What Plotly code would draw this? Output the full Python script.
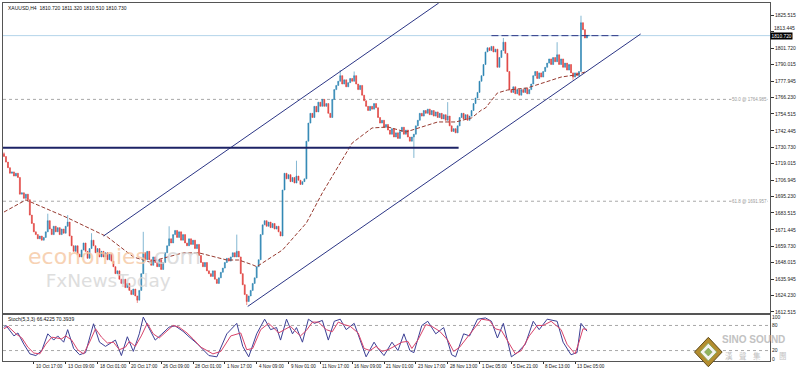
import plotly.graph_objects as go

# ---------------- data ----------------
first_open = 1726.0
closes = [
    1724, 1720, 1716, 1712, 1713, 1710, 1712, 1709, 1697, 1698,
    1694, 1697, 1693, 1682, 1676, 1670, 1668, 1665, 1667, 1664,
    1666, 1670, 1678, 1672, 1668, 1674, 1670, 1673, 1668, 1672,
    1669, 1674, 1677, 1667, 1660, 1656, 1660, 1654, 1652, 1657,
    1662, 1656, 1651, 1658, 1664, 1660, 1655, 1658, 1652, 1656,
    1652, 1655, 1650, 1654, 1649, 1645, 1640, 1642, 1636, 1633,
    1636, 1630, 1633, 1628, 1625, 1629, 1624, 1621, 1628, 1640,
    1655, 1650, 1656, 1650, 1646, 1652, 1648, 1645, 1650, 1643,
    1648, 1655, 1660, 1665, 1662, 1668, 1671, 1666, 1670, 1664,
    1668, 1662, 1660, 1665, 1661, 1664, 1658, 1661, 1653, 1648,
    1645, 1648, 1642, 1640, 1638, 1642, 1636, 1633, 1637, 1641,
    1644, 1648, 1651, 1649, 1652, 1655, 1652, 1656, 1652, 1640,
    1632, 1625, 1620, 1624, 1628, 1633, 1637, 1645, 1650, 1668,
    1675, 1678, 1674, 1677, 1673, 1676, 1672, 1674, 1670, 1667,
    1700, 1712, 1708, 1711, 1706, 1709, 1705, 1710, 1707, 1704,
    1706, 1708, 1735, 1748, 1755, 1752, 1760, 1756, 1763, 1760,
    1765, 1760, 1762, 1755, 1752, 1765, 1772, 1775, 1778, 1782,
    1776, 1779, 1774, 1777, 1780, 1778, 1782, 1776, 1772, 1775,
    1768, 1764, 1760, 1757, 1760, 1758, 1762, 1759, 1752, 1748,
    1750, 1745, 1747, 1743, 1740, 1744, 1738, 1741, 1737, 1742,
    1745, 1740, 1743, 1738, 1735, 1738, 1740, 1746, 1750, 1755,
    1753, 1757, 1755, 1758, 1754, 1757, 1753, 1756, 1752, 1755,
    1751, 1754, 1750, 1753, 1746, 1742, 1744, 1741, 1746, 1752,
    1755, 1751, 1754, 1750, 1753, 1757, 1762, 1766, 1770, 1778,
    1782, 1790, 1799, 1802, 1800, 1803, 1799, 1801, 1788, 1795,
    1800, 1806, 1798, 1785, 1772, 1770, 1774, 1769, 1772, 1768,
    1772, 1770, 1773, 1769, 1772, 1776, 1782, 1785, 1780, 1784,
    1781, 1785, 1788, 1791, 1794, 1790, 1795, 1792, 1797, 1790,
    1794, 1788, 1791, 1786, 1790, 1784, 1781, 1784, 1782, 1785,
    1820, 1815, 1809, 1811, 1810.73,
]
spike_highs = {0: 1727, 22: 1683, 32: 1682, 44: 1669, 70: 1670, 83: 1674,
               117: 1668, 147: 1721, 169: 1786, 176: 1785, 223: 1763,
               251: 1809, 278: 1806, 290: 1825, 291: 1818, 294: 1811.32}
spike_lows = {67: 1619, 122: 1617.5, 206: 1723, 286: 1779, 294: 1810.51}

ma_idx = [0, 11, 32, 52, 65, 73, 90, 98, 112, 118, 125, 127, 140, 152, 160,
          168, 175, 185, 193, 202, 210, 218, 227, 235, 240, 242, 248, 253,
          263, 280, 287, 292]
ma_val = [1684.2, 1692.9, 1680.0, 1666.3, 1652.0, 1648.4, 1654.9, 1654.9,
          1649.8, 1649.8, 1646.3, 1645.0, 1657.0, 1676.4, 1697.9, 1716.5,
          1733.7, 1744.5, 1745.2, 1741.6, 1745.2, 1748.8, 1748.8, 1751.7,
          1757.4, 1758.8, 1769.6, 1771.7, 1773.2, 1781.0, 1782.5, 1784.6]

k_idx = [0, 1, 5, 7, 10, 13, 16, 19, 22, 25, 27, 30, 32, 35, 38, 41, 45, 48,
         51, 56, 59, 62, 65, 68, 70, 73, 76, 79, 83, 86, 90, 93, 97, 103, 107,
         112, 117, 120, 123, 127, 131, 134, 137, 139, 142, 145, 147, 150, 153,
         156, 160, 163, 166, 169, 172, 176, 180, 182, 186, 188, 191, 195, 198,
         201, 204, 206, 210, 213, 217, 221, 225, 227, 231, 234, 238, 242, 245,
         248, 251, 255, 258, 262, 266, 269, 273, 278, 281, 285, 288, 290, 293]
k_val = [75, 80, 55, 62, 35, 12, 8, 20, 60, 45, 55, 40, 70, 25, 10, 15, 84, 40,
         30, 45, 8, 53, 18, 60, 100, 71, 45, 58, 76, 79, 66, 53, 37, 8, 5,
         60, 85, 30, 5, 60, 95, 70, 75, 45, 95, 60, 75, 40, 95,
         85, 92, 45, 90, 95, 70, 85, 30, 5, 40, 25, 8, 40, 20,
         60, 20, 15, 80, 90, 60, 75, 10, 5, 60, 55, 95, 98, 90,
         50, 85, 5, 15, 35, 90, 70, 95, 90, 40, 10, 15, 85, 66.42]

d_idx = [0, 2, 6, 9, 12, 15, 18, 21, 24, 27, 29, 31, 34, 37, 40, 43, 46, 49,
         52, 55, 58, 61, 63, 66, 69, 72, 75, 78, 81, 85, 88, 92, 95, 99, 105,
         109, 114, 119, 122, 125, 129, 133, 136, 138, 141, 144, 146, 149, 152,
         155, 158, 162, 165, 168, 171, 174, 178, 181, 184, 187, 190, 193, 197,
         200, 203, 205, 208, 212, 215, 219, 223, 226, 229, 233, 236, 240, 244,
         247, 250, 253, 257, 260, 264, 268, 271, 275, 280, 283, 287, 289, 291,
         293]
d_val = [72, 78, 60, 50, 28, 14, 12, 35, 52, 50, 48, 55, 45, 22, 12, 40, 72,
         52, 38, 40, 22, 28, 42, 30, 55, 85, 60, 50, 62, 80, 76, 62, 48, 28,
         12, 18, 55, 62, 22, 25, 70, 85, 72, 62, 70, 78, 68, 55, 68, 88, 88,
         70, 65, 88, 82, 78, 62, 25, 20, 30, 18, 22, 32, 40, 42, 25, 45, 82,
         78, 66, 45, 18, 28, 52, 72, 95, 92, 72, 68, 45, 12, 20, 55, 80, 80,
         90, 70, 35, 12, 40, 72, 70.39]

price_ticks = [1825.515, 1813.445, 1801.720, 1790.015, 1777.945, 1766.230,
               1754.515, 1742.445, 1730.730, 1719.015, 1706.945, 1695.230,
               1683.515, 1671.445, 1659.730, 1648.015, 1635.945, 1624.230,
               1612.515]
hidden_tick = 1813.445   # label sits just above the black price box
date_labels = ["6 Oct 2022", "10 Oct 17:00", "13 Oct 09:00", "18 Oct 01:00",
               "20 Oct 17:00", "26 Oct 09:00", "28 Oct 01:00", "1 Nov 17:00",
               "4 Nov 09:00", "9 Nov 01:00", "11 Nov 17:00", "16 Nov 09:00",
               "21 Nov 01:00", "23 Nov 17:00", "28 Nov 13:00", "1 Dec 05:00",
               "5 Dec 21:00", "8 Dec 13:00", "13 Dec 05:00"]
date_label_idx = [-1 + 16 * k for k in range(len(date_labels))]

bid = 1810.720
support_level = 1730.3
resistance_level = 1810.7
fib_levels = [1764.985, 1691.957]
fib_texts = ["50.0 @ 1764.985", "61.8 @ 1691.957"]
upper_channel = ([50, 218.5], [1667.0, 1834.1])
lower_channel = ([122.5, 320], [1616.5, 1811.9])
support_span = [-0.5, 228.5]
resistance_span = [245, 310]

logo_chars = ["漢", "聲", "集", "團"]
logo_char_x = [0.9468, 0.9650, 0.9831, 1.0168]

# ---------------- build OHLC ----------------
n = len(closes)
opens = [first_open] + closes[:-1]
opens[-1] = 1810.720
highs, lows = [], []
for i in range(n):
    h = max(opens[i], closes[i])
    l = min(opens[i], closes[i])
    if i in spike_highs:
        h = max(h, spike_highs[i])
    if i in spike_lows:
        l = min(l, spike_lows[i])
    highs.append(h)
    lows.append(l)
xs = list(range(n))

UP = "#2f86b4"
DOWN = "#e0403c"
NAVY = "#2b3585"
FONT = "Liberation Sans"

fig = go.Figure()
fig.add_trace(go.Candlestick(
    x=xs, open=opens, high=highs, low=lows, close=closes,
    increasing=dict(line=dict(color=UP, width=0.6), fillcolor=UP),
    decreasing=dict(line=dict(color=DOWN, width=0.6), fillcolor=DOWN),
    whiskerwidth=0, showlegend=False, hoverinfo="skip",
    xaxis="x", yaxis="y"))

fig.add_trace(go.Scatter(x=ma_idx, y=ma_val, mode="lines",
                         line=dict(color="#973a30", width=1, dash="4px,2px"),
                         showlegend=False, hoverinfo="skip", xaxis="x", yaxis="y"))

fig.add_trace(go.Scatter(x=upper_channel[0], y=upper_channel[1], mode="lines",
                         line=dict(color=NAVY, width=1), showlegend=False,
                         hoverinfo="skip", xaxis="x", yaxis="y"))
fig.add_trace(go.Scatter(x=lower_channel[0], y=lower_channel[1], mode="lines",
                         line=dict(color=NAVY, width=1), showlegend=False,
                         hoverinfo="skip", xaxis="x", yaxis="y"))
fig.add_trace(go.Scatter(x=support_span, y=[support_level] * 2, mode="lines",
                         line=dict(color="#1c2366", width=2), showlegend=False,
                         hoverinfo="skip", xaxis="x", yaxis="y"))
fig.add_trace(go.Scatter(x=resistance_span, y=[resistance_level] * 2, mode="lines",
                         line=dict(color=NAVY, width=1, dash="7px,3px"),
                         showlegend=False, hoverinfo="skip", xaxis="x", yaxis="y"))

fig.add_trace(go.Scatter(x=k_idx, y=k_val, mode="lines",
                         line=dict(color="#3c3f95", width=1), showlegend=False,
                         hoverinfo="skip", xaxis="x2", yaxis="y2"))
fig.add_trace(go.Scatter(x=d_idx, y=d_val, mode="lines",
                         line=dict(color="#d8436a", width=1), showlegend=False,
                         hoverinfo="skip", xaxis="x2", yaxis="y2"))

shapes = []
shapes.append(dict(type="line", xref="paper", x0=0, x1=1, yref="y", y0=bid, y1=bid,
                   line=dict(color="#b3d4ea", width=1), layer="below"))
for lv in fib_levels:
    shapes.append(dict(type="line", xref="paper", x0=0, x1=1, yref="y", y0=lv, y1=lv,
                       line=dict(color="#a8a8a8", width=1, dash="dot"), layer="below"))
for lv in [80, 20]:
    shapes.append(dict(type="line", xref="paper", x0=0, x1=1, yref="y2", y0=lv, y1=lv,
                       line=dict(color="#a8a8a8", width=1, dash="dot"), layer="below"))

# logo diamond (decoration), centre about (711, 352) px
shapes.append(dict(type="path", xref="paper", yref="paper",
                   path="M 0.9196 0.066 L 0.9376 0.025 L 0.9196 -0.016 L 0.9016 0.025 Z",
                   fillcolor="#b38d2f", line=dict(color="#5e4a1a", width=1)))
shapes.append(dict(type="path", xref="paper", yref="paper",
                   path="M 0.9196 0.050 L 0.9306 0.025 L 0.9196 0.000 L 0.9086 0.025 Z",
                   fillcolor="#f4f4f0", line=dict(color="#8aa85a", width=1)))
shapes.append(dict(type="path", xref="paper", yref="paper",
                   path="M 0.9196 0.036 L 0.9246 0.025 L 0.9196 0.014 L 0.9146 0.025 Z",
                   fillcolor="#8fb35c", line=dict(color="#6f8f45", width=0.5)))

annotations = []
annotations.append(dict(text="XAUUSD,H4  1810.720 1811.320 1810.510 1810.730",
                        xref="paper", yref="paper", x=0.004, y=0.985,
                        xanchor="left", yanchor="middle", showarrow=False,
                        font=dict(size=5, color="#111", family=FONT)))
annotations.append(dict(text="Stoch(5,3,3) 66.4225 70.3939",
                        xref="paper", yref="paper", x=0.004, y=0.118,
                        xanchor="left", yanchor="middle", showarrow=False,
                        font=dict(size=5, color="#111", family=FONT)))
annotations.append(dict(text=f"{bid:.3f}", xref="paper", yref="y", x=1.0, y=bid,
                        xanchor="left", yanchor="middle", showarrow=False,
                        bgcolor="#000000", borderpad=0.5,
                        font=dict(size=4.8, color="#ffffff", family=FONT)))
annotations.append(dict(text=f"{hidden_tick:.3f}", xref="paper", yref="y",
                        x=1.0, xshift=3, y=1813.6, xanchor="left", yanchor="bottom",
                        showarrow=False, borderpad=0,
                        font=dict(size=5, color="#222", family=FONT)))
for lv, t in zip(fib_levels, fib_texts):
    annotations.append(dict(text=t, xref="paper", yref="y", x=0.998, y=lv,
                            xanchor="right", yanchor="middle", showarrow=False,
                            bgcolor="#ffffff", borderpad=0,
                            font=dict(size=4.5, color="#9a9a9a", family=FONT)))
for idx, lab in zip(date_label_idx, date_labels):
    annotations.append(dict(text=lab, xref="x2", yref="paper", x=idx, y=-0.014,
                            xanchor="left", yanchor="middle", showarrow=False,
                            font=dict(size=4.6, color="#111", family=FONT)))
# watermark (one block, two lines)
annotations.append(dict(
    text=("<span style='font-size:22px;color:#f6c7a2'>economies</span>"
          "<span style='font-size:22px;color:#d6d6d6'>.com</span><br>"
          "<span style='font-size:18.5px;color:#d6d6d6'>&nbsp;&nbsp;&nbsp;FxNewsToday</span>"),
    xref="paper", yref="paper", x=0.03, y=0.262, align="left",
    xanchor="left", yanchor="middle", showarrow=False, opacity=0.8,
    font=dict(size=17.5, family="DejaVu Sans")))
annotations.append(dict(text="<b>SINO SOUND</b>", xref="paper", yref="paper",
                        x=1.022, y=0.059, xanchor="right", yanchor="middle",
                        showarrow=False, font=dict(size=10, color="#c2c2c2", family=FONT)))
for ch, cx in zip(logo_chars, logo_char_x):
    annotations.append(dict(text=ch, xref="paper", yref="paper",
                            x=cx, y=0.016, xanchor="center", yanchor="middle",
                            showarrow=False, font=dict(size=7.5, color="#c2c2c2",
                                                       family="Noto Sans CJK TC")))

fig.update_layout(
    width=798, height=372,
    margin=dict(l=2, r=25, t=3, b=11),
    paper_bgcolor="#ffffff", plot_bgcolor="#ffffff",
    shapes=shapes, annotations=annotations,
    xaxis=dict(domain=[0, 1], range=[-0.5, 385], showgrid=False, zeroline=False,
               showticklabels=False, ticks="", showline=True, mirror=True,
               linecolor="#555", linewidth=1, rangeslider=dict(visible=False),
               anchor="y", fixedrange=True),
    yaxis=dict(domain=[0.1341, 1], range=[1611.79, 1834.12], side="right",
               tickvals=price_ticks,
               ticktext=["" if v == hidden_tick else f"{v:.3f}" for v in price_ticks],
               ticks="outside", ticklen=3, tickcolor="#333", showgrid=False,
               zeroline=False, showline=True, mirror=True, linecolor="#555",
               linewidth=1, tickfont=dict(size=5, color="#222", family=FONT),
               anchor="x"),
    xaxis2=dict(domain=[0, 1], range=[-0.5, 385], matches="x", showgrid=False,
                zeroline=False, tickvals=date_label_idx, ticktext=[""] * len(date_labels),
                ticks="outside", ticklen=2, tickcolor="#333", showline=True,
                mirror=True, linecolor="#555", linewidth=1, anchor="y2"),
    yaxis2=dict(domain=[0, 0.1285], range=[-5, 105], side="right",
                tickvals=[0, 20, 80, 100], ticktext=["0", "20", "80", "100"],
                ticks="", showgrid=False, zeroline=False, showline=True,
                mirror=True, linecolor="#555", linewidth=1,
                tickfont=dict(size=5, color="#222", family=FONT), anchor="x2"),
)

fig.write_html("out.html")
